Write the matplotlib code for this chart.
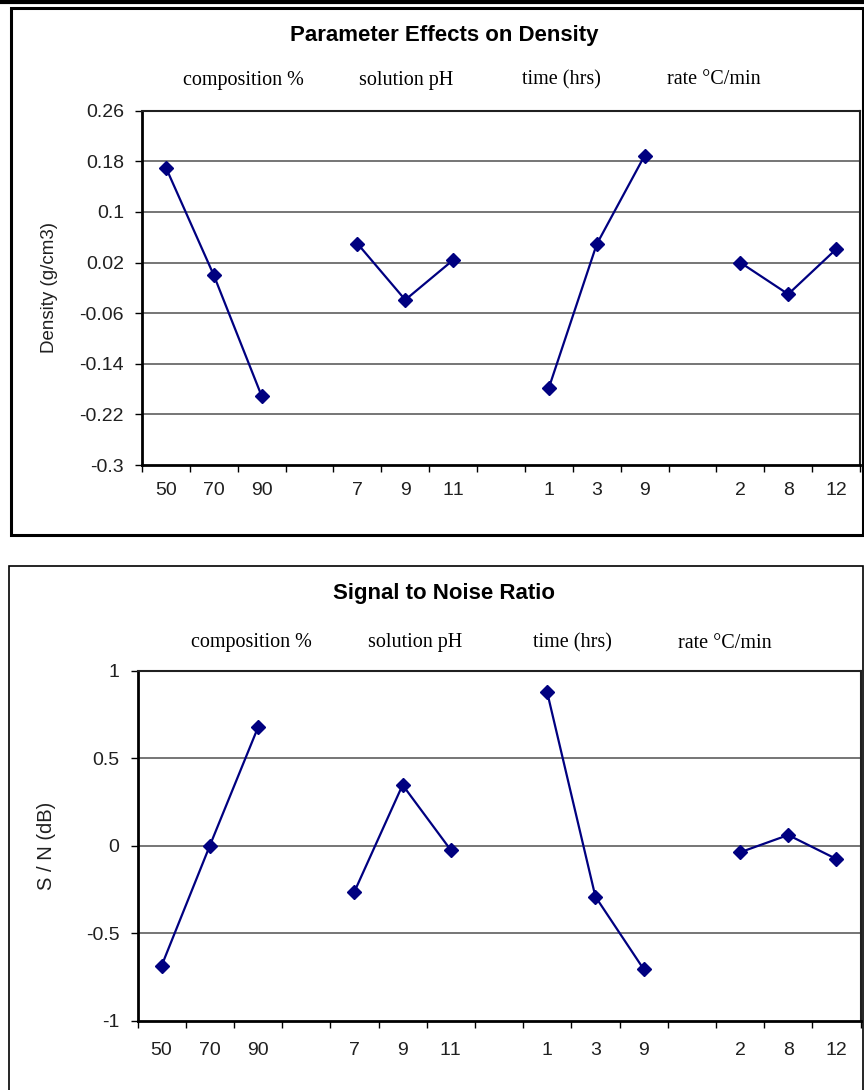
import numpy as np
import matplotlib
matplotlib.use('Agg')
import matplotlib.pyplot as plt
from matplotlib.patches import Rectangle

# 15 category slots, empty slots separate the four parameters
levels = ['50', '70', '90', '', '7', '9', '11', '', '1', '3', '9', '', '2', '8', '12']
groups = ['composition %', 'solution pH', 'time (hrs)', 'rate °C/min']

nan = np.nan
density = [0.170, 0.000, -0.191, nan, 0.050, -0.039, 0.024, nan,
           -0.178, 0.049, 0.189, nan, 0.020, -0.030, 0.041]
sn_ratio = [-0.686, 0.000, 0.676, nan, -0.263, 0.347, -0.025, nan,
            0.876, -0.291, -0.705, nan, -0.038, 0.061, -0.076]

density_ticks = [-0.3, -0.22, -0.14, -0.06, 0.02, 0.1, 0.18, 0.26]
density_ticklabels = ['-0.3', '-0.22', '-0.14', '-0.06', '0.02', '0.1', '0.18', '0.26']
sn_ticks = [-1, -0.5, 0, 0.5, 1]
sn_ticklabels = ['-1', '-0.5', '0', '0.5', '1']

# the original has no kerning (e.g. "11")
plt.rcParams['text.kerning_factor'] = 10

W, H = 864, 1090
fig = plt.figure(figsize=(W / 100, H / 100), dpi=100)
SANS = 'Liberation Sans'
SERIF = 'Liberation Serif'


def px_axes(left, top, right, bottom):
    # axes placed from pixel edges of the picture
    return fig.add_axes([left / W, 1 - bottom / H, (right - left) / W, (bottom - top) / H])


def draw_panel(ax, values, ticks, ticklabels, ylabel, title, box, title_y, group_x, group_y,
               ylabel_x, ylabel_size, xpad):
    x = np.arange(len(levels))
    ax.plot(x, values, color='#000080', lw=1.6, marker='D', ms=7,
            markerfacecolor='#000080', markeredgecolor='#000080', zorder=3)
    ax.set_xlim(-0.5, len(levels) - 0.5)
    ax.set_ylim(ticks[0], ticks[-1])
    ax.set_yticks(ticks)
    ax.set_yticklabels(ticklabels, fontfamily=SANS, fontsize=14, color='#202020')
    ax.set_xticks(x)
    ax.set_xticklabels(levels, fontfamily=SANS, fontsize=14, color='#202020')
    ax.set_xticks(np.arange(-0.5, len(levels)), minor=True)
    ax.tick_params(axis='x', which='major', length=0, pad=xpad)
    ax.tick_params(axis='x', which='minor', length=5, width=1, direction='out')
    ax.tick_params(axis='y', length=5, width=1, direction='out', pad=8)
    for t in ticks[1:-1]:
        ax.axhline(t, color='#505050', lw=1.1, zorder=1)
    for side in ['left', 'bottom']:
        ax.spines[side].set_linewidth(2)
    for side in ['top', 'right']:
        ax.spines[side].set_linewidth(1.5)
        ax.spines[side].set_color('#202020')

    pos = ax.get_position()
    fig.text(ylabel_x / W, (pos.y0 + pos.y1) / 2, ylabel, rotation=90, ha='center', va='center',
             fontfamily=SANS, fontsize=ylabel_size, color='#202020')
    fig.text(444 / W, 1 - title_y / H, title, ha='center', va='center',
             fontfamily=SANS, fontsize=16, fontweight='bold')
    for name, gx in zip(groups, group_x):
        fig.text(gx / W, 1 - group_y / H, name, ha='center', va='center',
                 fontfamily=SERIF, fontsize=14.5)
    l, t, r, b, lw = box
    fig.patches.append(Rectangle((l / W, 1 - b / H), (r - l) / W, (b - t) / H, fill=False,
                                 edgecolor='black', lw=lw, transform=fig.transFigure, figure=fig))


# thick rule along the top edge
fig.add_artist(plt.Line2D([0, 1], [1 - 2 / H, 1 - 2 / H], color='black', lw=3,
                          transform=fig.transFigure))

ax1 = px_axes(142, 110.7, 860, 465)
draw_panel(ax1, density, density_ticks, density_ticklabels, 'Density (g/cm3)',
           'Parameter Effects on Density', (11, 8, 863, 535, 2.2), 36,
           [243, 406, 561, 714], 80, 49, 13.5, 12)

ax2 = px_axes(137.5, 670.7, 860.5, 1020.7)
draw_panel(ax2, sn_ratio, sn_ticks, sn_ticklabels, 'S / N (dB)',
           'Signal to Noise Ratio', (9, 566, 863, 1095, 1.2), 594,
           [251, 415, 572, 725], 643, 46, 14.5, 15)

fig.savefig('out.png', dpi=100)
